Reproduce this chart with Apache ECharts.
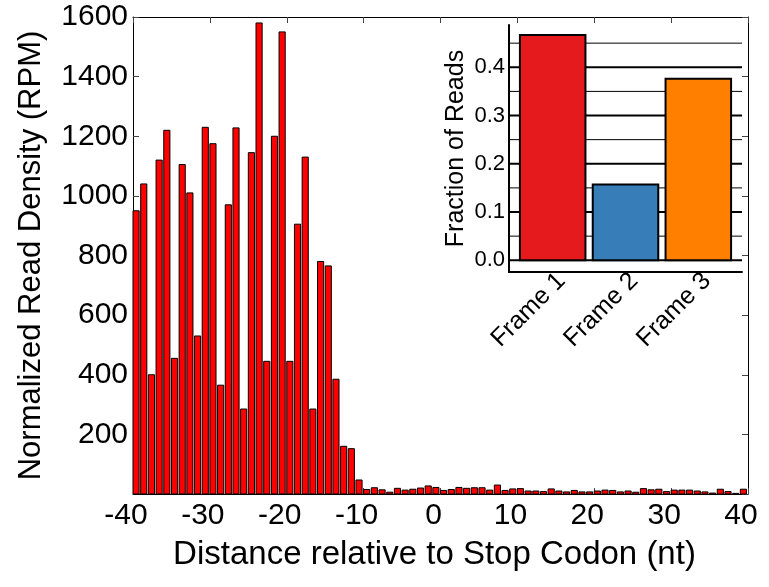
<!DOCTYPE html>
<html><head><meta charset="utf-8">
<script src="https://cdn.jsdelivr.net/npm/echarts@6/dist/echarts.min.js"></script>
<style>html,body{margin:0;padding:0;background:#fff}#c{width:769px;height:587px}</style>
</head><body><div id="c"></div>
<script>
// ---- Main chart data: read density by distance from stop codon ----
const positions = [];
for (let p = -40; p <= 39; p++) positions.push(p);
const density = [
  950, 1040, 400, 1120, 1220, 455, 1105, 1010, 530, 1230,
  1175, 365, 970, 1228, 285, 1145, 1580, 445, 1200, 1550,
  445, 905, 1130, 285, 780, 765, 385, 160, 152, 47,
  15, 21, 14, 6, 19, 13, 16, 20, 27, 22,
  12, 15, 22, 19, 21, 21, 13, 30, 12, 17,
  18, 10, 10, 8, 17, 10, 7, 12, 7, 7,
  10, 13, 12, 7, 10, 6, 18, 14, 16, 8,
  13, 13, 13, 10, 7, 3, 16, 8, 2, 16
];
// ---- Inset data: fraction of reads per frame ----
const frameNames = ['Frame 1', 'Frame 2', 'Frame 3'];
const frameFractions = [0.467, 0.157, 0.376];
const frameColors = ['#e41a1c', '#377eb8', '#ff7f00'];
const insetTickValues = [0, 0.1, 0.2, 0.3, 0.4];
const insetGridValues = [0, 0.05, 0.1, 0.15, 0.2, 0.25, 0.3, 0.35, 0.4, 0.45];

const FONT = 'Liberation Sans, Arial, Helvetica, sans-serif';
const chart = echarts.init(document.getElementById('c'), null, {renderer: 'canvas'});

const mainBarData = positions.map((p, i) => [p, density[i]]);
const frameData = frameNames.map((n, i) => [i, frameFractions[i]]);
const gridData = insetGridValues.map(v => [v]);
// rotated frame labels are anchored slightly right of the bar centres (as in the reference)
const frameLabelAnchors = frameNames.map((n, i) => i + 0.12);

const mainX = {
  type: 'value', min: -40, max: 40, interval: 10, gridIndex: 0,
  axisLine: {show: true, onZero: false, lineStyle: {color: '#000', width: 1}},
  axisTick: {show: true, inside: true, length: 6, lineStyle: {color: '#444', width: 1}},
  splitLine: {show: false}
};
const mainY = {
  type: 'value', min: 0, max: 1600, interval: 200, gridIndex: 0,
  axisLine: {show: true, onZero: false, lineStyle: {color: '#000', width: 1}},
  axisTick: {show: true, inside: true, length: 6, lineStyle: {color: '#444', width: 1}},
  splitLine: {show: false}
};

const option = {
  animation: false,
  backgroundColor: '#fff',
  textStyle: {fontFamily: FONT},
  grid: [
    {left: 133, right: 21, top: 17, bottom: 93, containLabel: false},
    {left: 509, top: 25, width: 233, height: 247, containLabel: false}
  ],
  xAxis: [
    Object.assign({}, mainX, {
      position: 'bottom',
      axisLabel: {show: true, fontSize: 30, color: '#000', fontFamily: FONT, margin: 7, padding: [0, 14, 0, 0],
        formatter: v => String(v)},
      name: 'Distance relative to Stop Codon (nt)', nameLocation: 'middle', nameGap: 44,
      nameTextStyle: {fontSize: 33, color: '#000', fontFamily: FONT, padding: [0, 12, 0, 0]}
    }),
    Object.assign({}, mainX, {position: 'top', axisLabel: {show: false}}),
    {
      type: 'value', gridIndex: 1, min: -0.6, max: 2.6, position: 'bottom',
      axisLine: {show: true, onZero: false, lineStyle: {color: '#000', width: 2}},
      axisTick: {show: false},
      splitLine: {show: false},
      axisLabel: {
        show: true, customValues: frameLabelAnchors, rotate: 45, fontSize: 25, color: '#000', fontFamily: FONT, margin: 5,
        formatter: v => frameNames[Math.round(v)]
      }
    }
  ],
  yAxis: [
    Object.assign({}, mainY, {
      position: 'left',
      axisLabel: {show: true, showMinLabel: false, fontSize: 30, color: '#000', fontFamily: FONT, margin: 5,
        formatter: v => String(v)},
      name: 'Normalized Read Density (RPM)', nameLocation: 'middle', nameRotate: 90, nameGap: 86,
      nameTextStyle: {fontSize: 31, color: '#000', fontFamily: FONT}
    }),
    Object.assign({}, mainY, {position: 'right', axisLabel: {show: false}}),
    {
      type: 'value', gridIndex: 1, min: -0.0243, max: 0.4876, position: 'left',
      axisLine: {show: true, onZero: false, lineStyle: {color: '#000', width: 2}},
      axisTick: {show: false},
      splitLine: {show: false},
      axisLabel: {
        show: true, customValues: insetTickValues, fontSize: 22, color: '#000', fontFamily: FONT, margin: 4,
        formatter: v => v.toFixed(1)
      },
      name: 'Fraction of Reads', nameLocation: 'middle', nameRotate: 90, nameGap: 40,
      nameTextStyle: {fontSize: 25, color: '#000', fontFamily: FONT}
    }
  ],
  series: [
    {
      type: 'custom', name: 'density', xAxisIndex: 0, yAxisIndex: 0, z: 2,
      data: mainBarData, encode: {x: 0, y: 1},
      renderItem: function (params, api) {
        const x = api.value(0), v = api.value(1);
        const p0 = api.coord([x, 0]);
        const p1 = api.coord([x + 0.8, v]);
        return {
          type: 'rect',
          shape: {x: p0[0], y: p1[1], width: p1[0] - p0[0], height: p0[1] - p1[1]},
          style: {fill: '#ff0000', stroke: '#000', lineWidth: 1}
        };
      }
    },
    {
      type: 'custom', name: 'insetGrid', xAxisIndex: 2, yAxisIndex: 2, z: 3,
      data: gridData, encode: {y: 0},
      renderItem: function (params, api) {
        const v = api.value(0);
        const y = api.coord([0, v])[1];
        const cs = params.coordSys;
        const major = Math.abs(v * 10 - Math.round(v * 10)) < 1e-6;
        return {
          type: 'line',
          shape: {x1: cs.x, y1: y, x2: cs.x + cs.width, y2: y},
          style: {stroke: '#000', lineWidth: major ? 2 : 1}
        };
      }
    },
    {
      type: 'custom', name: 'frames', xAxisIndex: 2, yAxisIndex: 2, z: 4,
      data: frameData, encode: {x: 0, y: 1},
      renderItem: function (params, api) {
        const i = api.value(0), v = api.value(1);
        const p0 = api.coord([i - 0.45, 0]);
        const p1 = api.coord([i + 0.45, v]);
        return {
          type: 'rect',
          shape: {x: p0[0], y: p1[1], width: p1[0] - p0[0], height: p0[1] - p1[1]},
          style: {fill: frameColors[i], stroke: '#000', lineWidth: 2}
        };
      }
    }
  ]
};
chart.setOption(option);
</script>
</body></html>
